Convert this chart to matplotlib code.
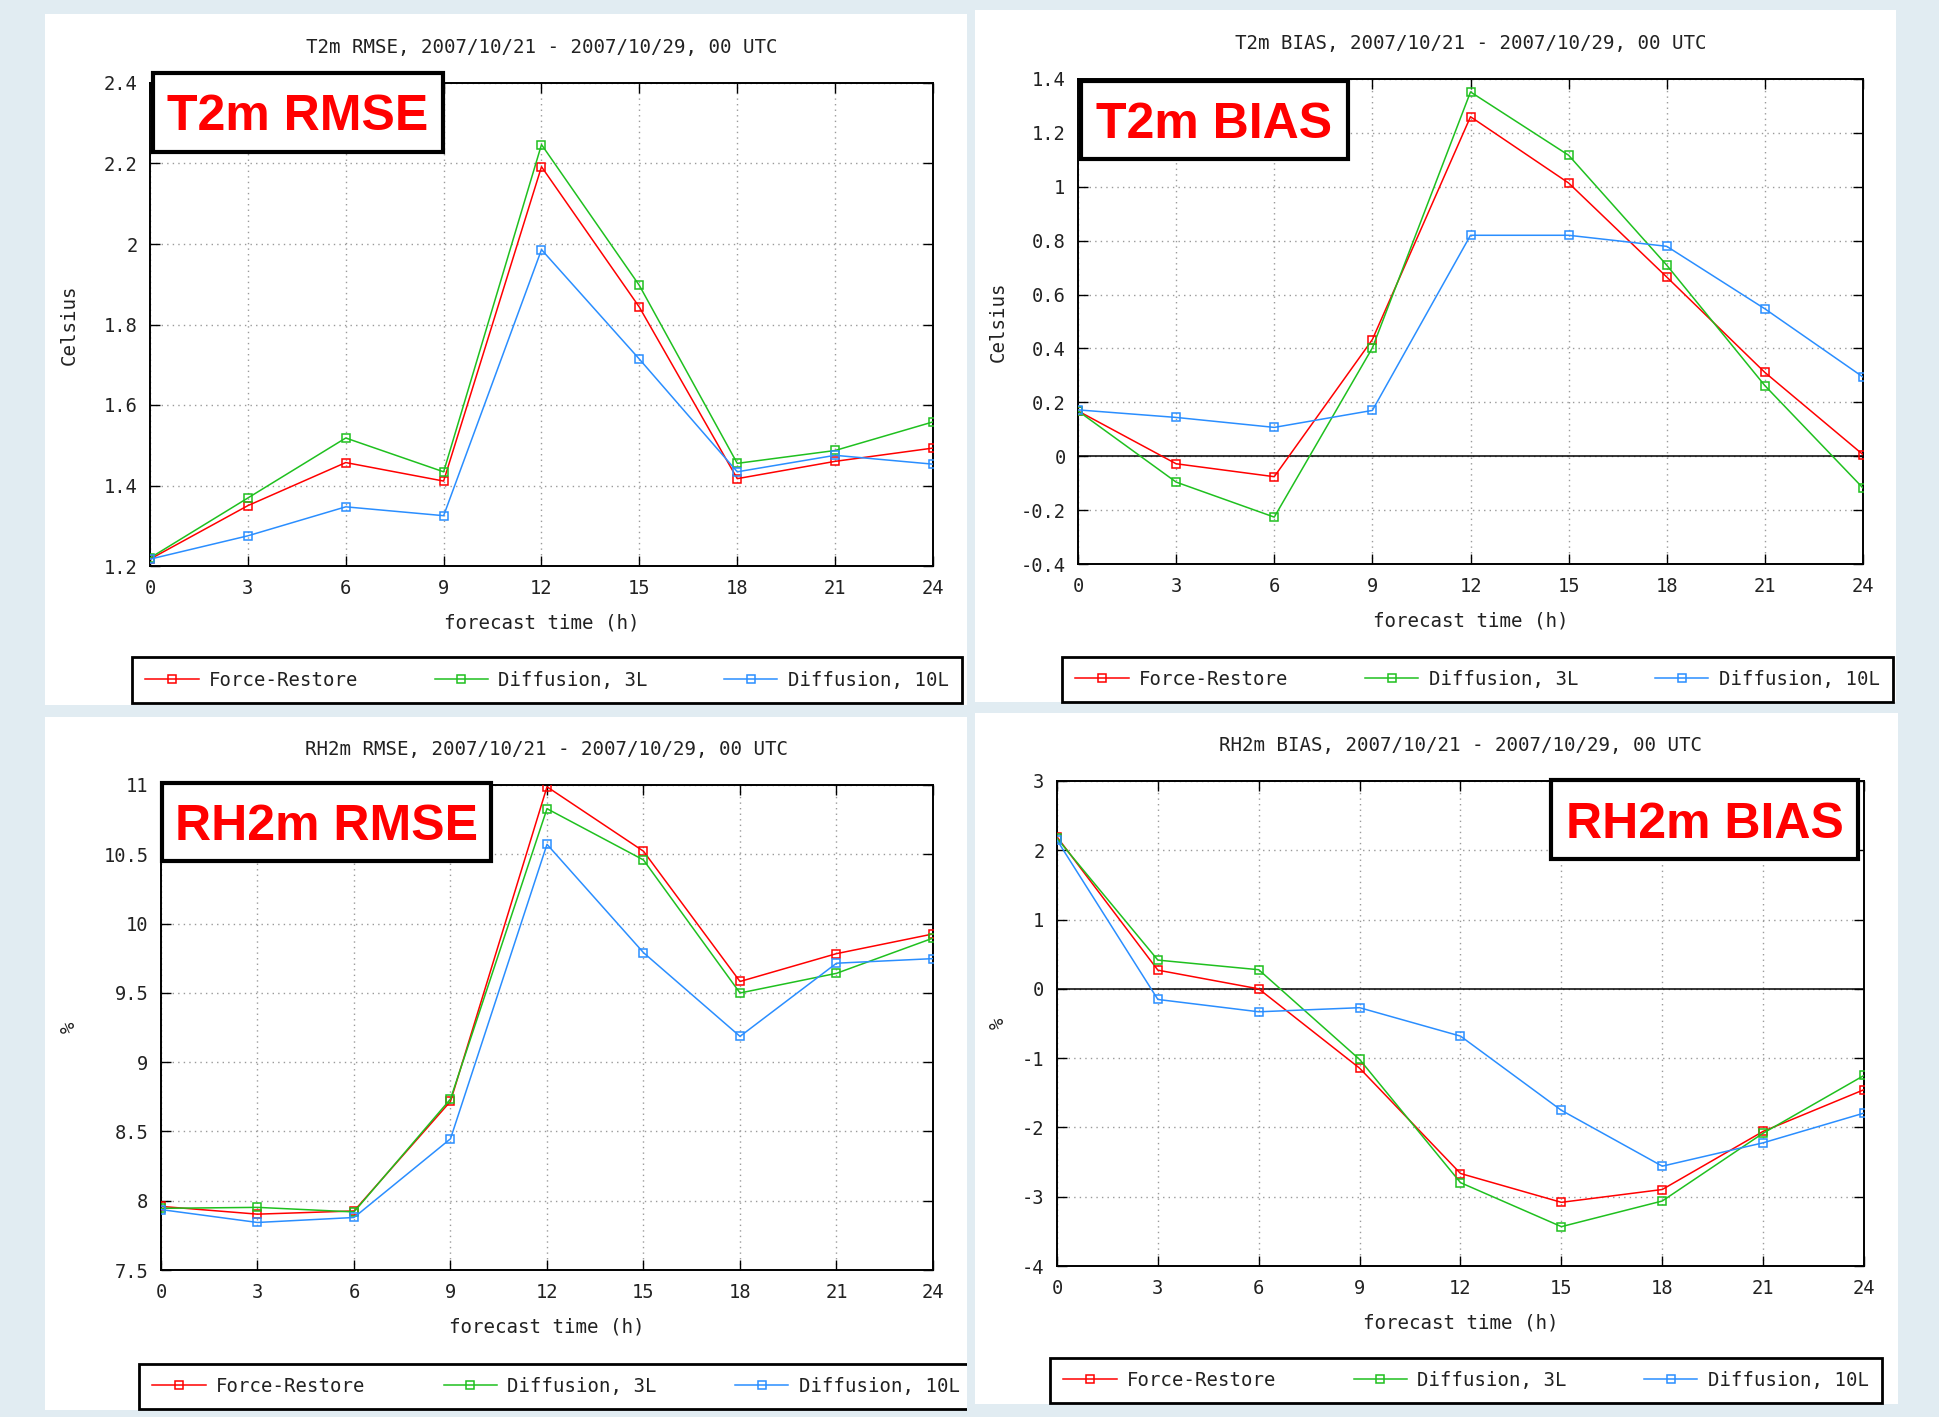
import matplotlib
matplotlib.use("Agg")
import matplotlib.pyplot as plt
from matplotlib.patches import Rectangle
from matplotlib.transforms import ScaledTranslation

plt.rcParams["axes.unicode_minus"] = False

# forecast hours
hours = [0, 3, 6, 9, 12, 15, 18, 21, 24]
series_names = ["Force-Restore", "Diffusion, 3L", "Diffusion, 10L"]
series_colors = ["#ff0000", "#1fc01f", "#2a8eff"]

# T2m RMSE (Celsius)
t2m_rmse_fr = [1.217, 1.350, 1.457, 1.411, 2.192, 1.843, 1.417, 1.460, 1.493]
t2m_rmse_d3 = [1.220, 1.369, 1.518, 1.434, 2.247, 1.897, 1.455, 1.487, 1.558]
t2m_rmse_d10 = [1.217, 1.275, 1.347, 1.325, 1.986, 1.714, 1.434, 1.475, 1.453]

# T2m BIAS (Celsius)
t2m_bias_fr = [0.168, -0.028, -0.076, 0.433, 1.260, 1.014, 0.665, 0.311, 0.006]
t2m_bias_d3 = [0.168, -0.096, -0.226, 0.402, 1.352, 1.117, 0.709, 0.262, -0.118]
t2m_bias_d10 = [0.172, 0.144, 0.107, 0.170, 0.820, 0.820, 0.779, 0.547, 0.294]

# RH2m RMSE (%)
rh2m_rmse_fr = [7.959, 7.903, 7.926, 8.717, 10.987, 10.522, 9.582, 9.783, 9.925]
rh2m_rmse_d3 = [7.945, 7.952, 7.919, 8.734, 10.829, 10.459, 9.499, 9.641, 9.895]
rh2m_rmse_d10 = [7.936, 7.843, 7.879, 8.447, 10.572, 9.790, 9.186, 9.714, 9.747]

# RH2m BIAS (%)
rh2m_bias_fr = [2.193, 0.270, 0.000, -1.145, -2.665, -3.081, -2.896, -2.057, -1.455]
rh2m_bias_d3 = [2.173, 0.415, 0.276, -1.019, -2.797, -3.432, -3.062, -2.083, -1.250]
rh2m_bias_d10 = [2.147, -0.153, -0.331, -0.272, -0.682, -1.753, -2.559, -2.222, -1.793]

# tick labels
x_ticklabels = ["0", "3", "6", "9", "12", "15", "18", "21", "24"]
t2m_rmse_yticks = [1.2, 1.4, 1.6, 1.8, 2.0, 2.2, 2.4]
t2m_rmse_ylabels = ["1.2", "1.4", "1.6", "1.8", "2", "2.2", "2.4"]
t2m_bias_yticks = [-0.4, -0.2, 0.0, 0.2, 0.4, 0.6, 0.8, 1.0, 1.2, 1.4]
t2m_bias_ylabels = ["-0.4", "-0.2", "0", "0.2", "0.4", "0.6", "0.8", "1", "1.2", "1.4"]
rh2m_rmse_yticks = [7.5, 8.0, 8.5, 9.0, 9.5, 10.0, 10.5, 11.0]
rh2m_rmse_ylabels = ["7.5", "8", "8.5", "9", "9.5", "10", "10.5", "11"]
rh2m_bias_yticks = [-4, -3, -2, -1, 0, 1, 2, 3]
rh2m_bias_ylabels = ["-4", "-3", "-2", "-1", "0", "1", "2", "3"]

period = "2007/10/21 - 2007/10/29, 00 UTC"

W, H = 1940, 1417
MONO = "DejaVu Sans Mono"
BG = "#e1ecf2"


def box(l, t, r, b):
    return [l / W, 1 - b / H, (r - l) / W, (b - t) / H]


fig = plt.figure(figsize=(W / 100, H / 100), dpi=100)
fig.patch.set_facecolor(BG)

panels = [
    dict(name="T2m RMSE", unit="Celsius", data=[t2m_rmse_fr, t2m_rmse_d3, t2m_rmse_d10],
         yticks=t2m_rmse_yticks, ylabels=t2m_rmse_ylabels, zero=False,
         panel=(45, 14, 967, 705), ax=(150, 83, 933, 566), leg=(132, 657, 962, 703),
         tag=(153, 73, 443, 152), ylab_x=69),
    dict(name="T2m BIAS", unit="Celsius", data=[t2m_bias_fr, t2m_bias_d3, t2m_bias_d10],
         yticks=t2m_bias_yticks, ylabels=t2m_bias_ylabels, zero=True,
         panel=(975, 10, 1896, 702), ax=(1078, 79, 1863, 564), leg=(1062, 657, 1893, 702),
         tag=(1081, 81, 1348, 159), ylab_x=998),
    dict(name="RH2m RMSE", unit="%", data=[rh2m_rmse_fr, rh2m_rmse_d3, rh2m_rmse_d10],
         yticks=rh2m_rmse_yticks, ylabels=rh2m_rmse_ylabels, zero=False,
         panel=(45, 717, 967, 1410), ax=(161, 785, 933, 1270), leg=(139, 1364, 973, 1409),
         tag=(162, 783, 491, 861), ylab_x=69),
    dict(name="RH2m BIAS", unit="%", data=[rh2m_bias_fr, rh2m_bias_d3, rh2m_bias_d10],
         yticks=rh2m_bias_yticks, ylabels=rh2m_bias_ylabels, zero=True,
         panel=(975, 713, 1898, 1404), ax=(1057, 781, 1864, 1266), leg=(1050, 1358, 1882, 1403),
         tag=(1551, 780, 1858, 859), ylab_x=998),
]

shift = ScaledTranslation(4 / 100, 0, fig.dpi_scale_trans)

for p in panels:
    # white panel behind each plot
    pl, pt, pr, pb = p["panel"]
    fig.patches.append(Rectangle((pl / W, 1 - pb / H), (pr - pl) / W, (pb - pt) / H,
                                 transform=fig.transFigure, facecolor="white",
                                 edgecolor="none", zorder=-1))

    ax = fig.add_axes(box(*p["ax"]))
    for vals, name, col in zip(p["data"], series_names, series_colors):
        ax.plot(hours, vals, color=col, lw=1.1, marker="s", ms=5.5, mfc="none",
                mec=col, mew=1.1, label=name, zorder=3)
    if p["zero"]:
        ax.axhline(0, color="black", lw=1.1, zorder=2)

    ax.set_xlim(0, 24)
    ax.set_ylim(p["yticks"][0], p["yticks"][-1])
    ax.set_xticks(hours)
    ax.set_xticklabels(x_ticklabels, fontfamily=MONO, fontsize=13.5)
    ax.set_yticks(p["yticks"])
    ax.set_yticklabels(p["ylabels"], fontfamily=MONO, fontsize=13.5)
    for lab in ax.get_xticklabels():
        lab.set_transform(lab.get_transform() + shift)
    ax.tick_params(direction="in", length=7, width=1, top=True, right=True,
                   pad=9, colors="black", labelcolor="#222222")
    ax.grid(True, color="#9a9a9a", linestyle=(0, (1, 3)), lw=1)
    for s in ax.spines.values():
        s.set_linewidth(1.4)

    al, at, ar, ab = p["ax"]
    cx = (al + ar) / 2 / W
    fig.text(cx, 1 - (at - 36) / H, f"{p['name']}, {period}", ha="center", va="center",
             fontfamily=MONO, fontsize=13.8, color="#222222")
    fig.text(cx, 1 - (ab + 57) / H, "forecast time (h)", ha="center", va="center",
             fontfamily=MONO, fontsize=13.8, color="#222222")
    fig.text(p["ylab_x"] / W, 1 - (at + ab) / 2 / H, p["unit"], ha="center", va="center",
             rotation=90, fontfamily=MONO, fontsize=13.8, color="#222222")

    ll, lt, lr, lb = p["leg"]
    leg = ax.legend(loc="center", bbox_to_anchor=box(ll, lt, lr, lb),
                    bbox_transform=fig.transFigure, ncol=3, mode="expand",
                    borderaxespad=0, fancybox=False, framealpha=1, edgecolor="black",
                    prop=dict(family=MONO, size=13.7), handlelength=2.8,
                    handletextpad=0.55, borderpad=0.7, numpoints=1)
    leg.get_frame().set_linewidth(2.0)
    for t in leg.get_texts():
        t.set_color("#222222")

    # red label box
    tl, tt, tr, tb = p["tag"]
    fig.patches.append(Rectangle((tl / W, 1 - tb / H), (tr - tl) / W, (tb - tt) / H,
                                 transform=fig.transFigure, facecolor="white",
                                 edgecolor="black", lw=3, zorder=5))
    fig.text((tl + tr) / 2 / W, 1 - ((tt + tb) / 2 + 5) / H, p["name"], ha="center",
             va="center", fontfamily="Liberation Sans", fontweight="bold", fontsize=36,
             color="#ff0000", zorder=6)

# strip between the lower panels hides the clipped legend edge
fig.patches.append(Rectangle((967 / W, 1 - 1417 / H), 8 / W, 710 / H,
                             transform=fig.transFigure, facecolor=BG,
                             edgecolor="none", zorder=10))

fig.savefig("out.png", dpi=100, facecolor=fig.get_facecolor())
